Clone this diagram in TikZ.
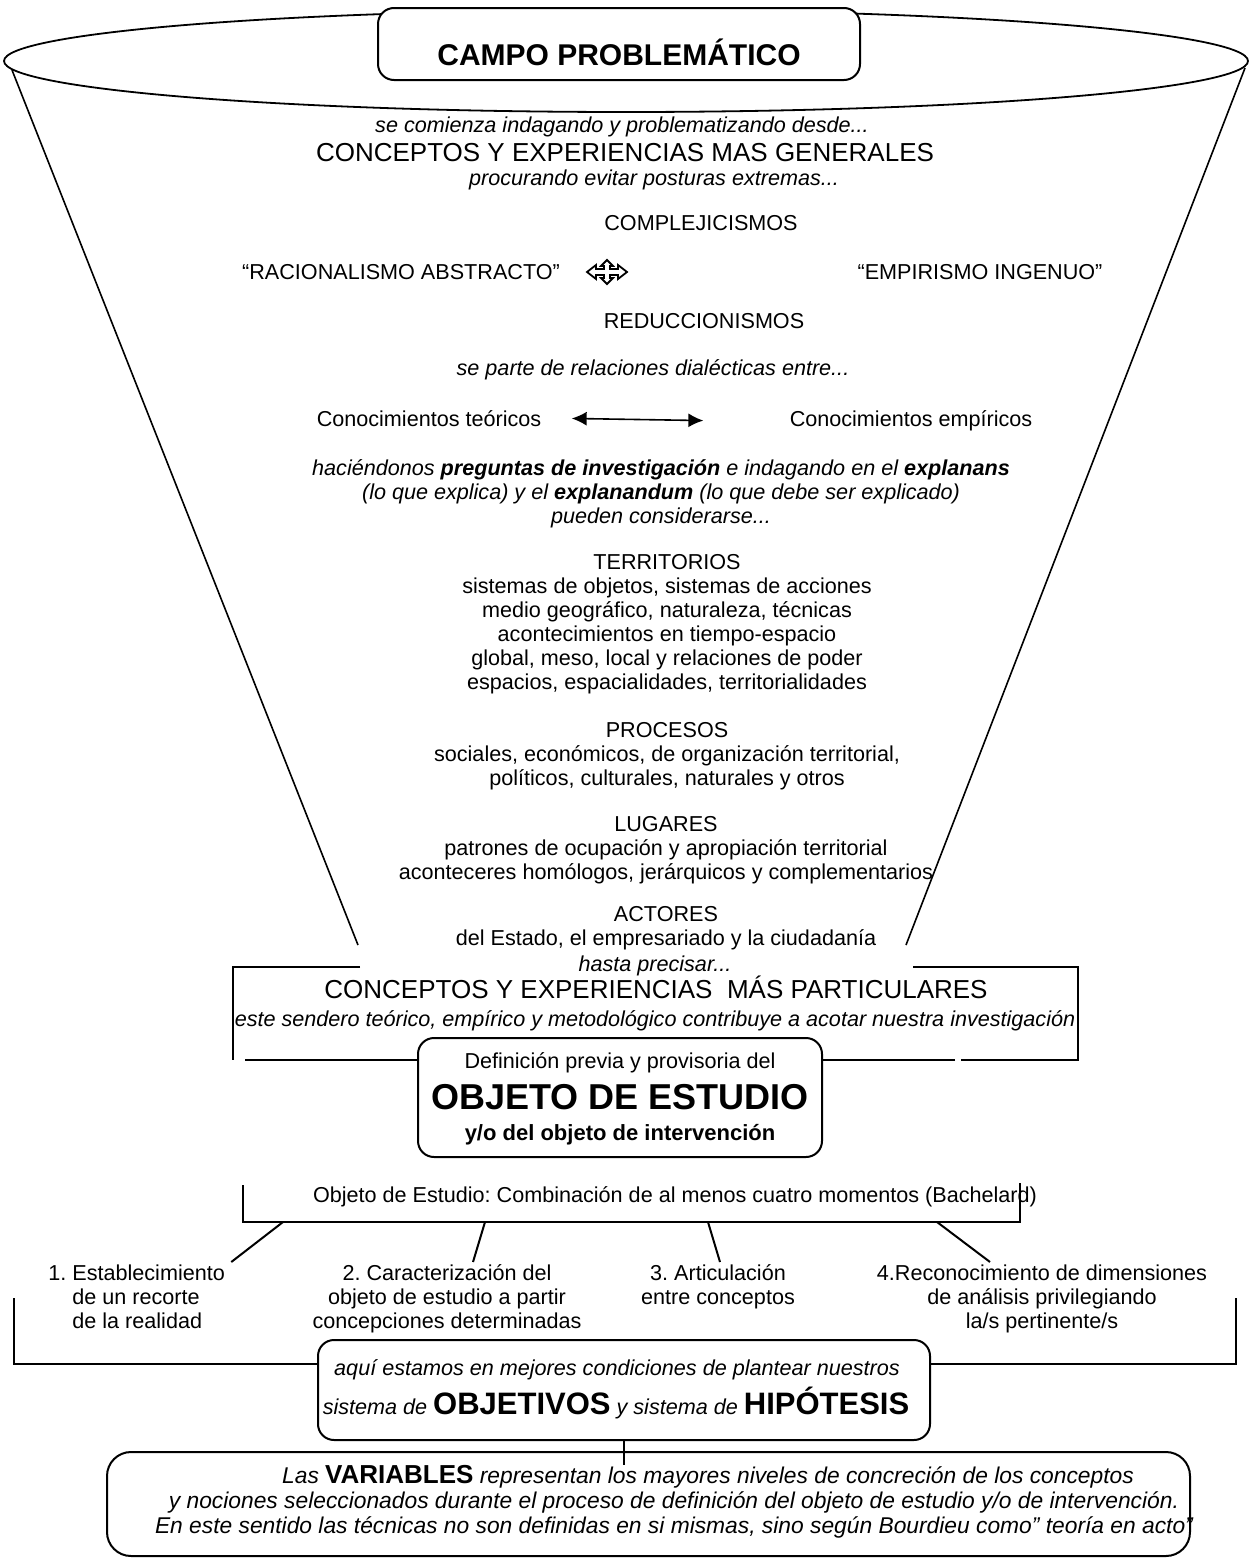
\documentclass[tikz,border=0pt]{standalone}
\usepackage{fontspec}
\setmainfont{Liberation Sans}
\usetikzlibrary{arrows.meta,positioning}
\frenchspacing

\tikzset{
    txt/.style={font=\fontsize{10.8}{12}\selectfont, align=center, inner sep=0pt},
    itx/.style={font=\fontsize{10.8}{12}\selectfont\itshape, align=center, inner sep=0pt},
    grande/.style={font=\fontsize{13}{15}\selectfont, inner sep=0pt},
    caja/.style={draw, fill=white, rounded corners=8pt, line width=1pt, inner sep=0pt},
    linea/.style={line width=1pt},
}

\begin{document}
\begin{tikzpicture}[x=0.5pt, y=-0.5pt]
    \useasboundingbox (0,0) rectangle (1249,1558);
    % embudo
    \draw [line width=0.9pt] (626,61) ellipse [x radius=311pt, y radius=25.5pt];
    \draw [line width=0.8pt] (12,70) -- (358,945);
    \draw [line width=0.8pt] (1245,68) -- (906,945);
    \node [caja, minimum width=241pt, minimum height=36pt] (campo) at (619,44) {};
    \node [font=\fontsize{15}{17}\selectfont\bfseries, inner sep=0pt] (campotxt) at (619,52) {CAMPO PROBLEMÁTICO};

    \node [itx] (comienza) at (622,127) {se comienza indagando y problematizando desde...};
    \node [grande] (generales) at (625,153) {CONCEPTOS Y EXPERIENCIAS MAS GENERALES};
    \node [itx] (procurando) at (654,180) {procurando evitar posturas extremas...};
    \node [txt] (complej) at (701,223) {COMPLEJICISMOS};
    \node [txt] (racional) at (401,272) {“RACIONALISMO ABSTRACTO”};
    \node [txt] (empirismo) at (980,272) {“EMPIRISMO INGENUO”};
    \node [txt] (reducc) at (704,321) {REDUCCIONISMOS};
    % flecha de cuatro puntas
    \draw [line width=0.9pt, shift={(607,272)}] (-20,0) -- (-11,-7) -- (-11,-3) -- (-3,-3) -- (-3,-6)
        -- (-6,-6) -- (0,-12) -- (6,-6) -- (3,-6) -- (3,-3) -- (11,-3) -- (11,-7) -- (20,0)
        -- (11,7) -- (11,3) -- (3,3) -- (3,6) -- (6,6) -- (0,12) -- (-6,6) -- (-3,6) -- (-3,3)
        -- (-11,3) -- (-11,7) -- cycle;

    \node [itx] (dialect) at (653,370) {se parte de relaciones dialécticas entre...};
    \node [txt, anchor=mid] (teorico) at (429,421) {Conocimientos teóricos};
    \node [txt, anchor=mid] (empirico) at (911,421) {Conocimientos empíricos};
    \draw [{Latex[length=7.5pt,width=7pt]}-{Latex[length=7.5pt,width=7pt]}, line width=0.8pt]
        ([xshift=15pt]teorico.east) -- ([xshift=-43pt]empirico.west);

    \node [itx] (preguntas) at (661,494) {haciéndonos \textbf{preguntas de investigación} e indagando en el \textbf{explanans}\\
        (lo que explica) y el \textbf{explanandum} (lo que debe ser explicado)\\
        pueden considerarse...};
    \node [txt] (territ) at (667,624) {TERRITORIOS\\
        sistemas de objetos, sistemas de acciones\\
        medio geográfico, naturaleza, técnicas\\
        acontecimientos en tiempo-espacio\\
        global, meso, local y relaciones de poder\\
        espacios, espacialidades, territorialidades};
    \node [txt] (procesos) at (667,756) {PROCESOS\\
        sociales, económicos, de organización territorial,\\
        políticos, culturales, naturales y otros};
    \node [txt] (lugares) at (666,850) {LUGARES\\
        patrones de ocupación y apropiación territorial\\
        aconteceres homólogos, jerárquicos y complementarios};
    \node [txt] (actores) at (666,928) {ACTORES\\
        del Estado, el empresariado y la ciudadanía};

    % corchete de los conceptos particulares
    \node [itx, anchor=mid] (hasta) at (655,966) {hasta precisar...};
    \node [grande, anchor=mid] (particulares) at (656,993) {CONCEPTOS Y EXPERIENCIAS \ MÁS PARTICULARES};
    \node [itx, anchor=mid] (sendero) at (655,1021) {este sendero teórico, empírico y metodológico contribuye a acotar nuestra investigación};
    \node [caja, minimum width=202pt, minimum height=59.5pt] (objeto) at (620,1097.5) {};
    \node [txt] (previa) at (620,1063) {Definición previa y provisoria del};
    \node [font=\fontsize{18}{20}\selectfont\bfseries, inner sep=0pt] (estudio) at (620,1097) {OBJETO DE ESTUDIO};
    \node [font=\fontsize{11}{13}\selectfont\bfseries, inner sep=0pt] (interv) at (620,1135) {y/o del objeto de intervención};
    \draw [linea] (360,967) -- (233,967) -- (233,1060);
    \draw [linea] (245,1060) -- (objeto.west |- 0,1060);
    \draw [linea] (913,967) -- (1078,967) -- (1078,1060) -- (961,1060);
    \draw [linea] (955,1060) -- (objeto.east |- 0,1060);

    % cuatro momentos
    \node [txt] (bachelard) at (675,1197) {Objeto de Estudio: Combinación de al menos cuatro momentos (Bachelard)};
    \draw [linea] (243,1185) -- (243,1222) -- (1020,1222) -- (1020,1183);
    \coordinate (b1) at (283,1222);
    \coordinate (b2) at (485,1222);
    \coordinate (b3) at (708,1222);
    \coordinate (b4) at (937,1222);
    \node [txt, align=left, anchor=north west] (item1) at (48,1264) {1. Establecimiento\\
        \phantom{1. }de un recorte\\
        \phantom{1. }de la realidad};
    \node [txt, anchor=north] (item2) at (447,1264) {2. Caracterización del\\
        objeto de estudio a partir\\
        concepciones determinadas};
    \node [txt, anchor=north] (item3) at (718,1264) {3. Articulación\\
        entre conceptos};
    \node [txt, anchor=north] (item4) at (1042,1264) {4.Reconocimiento de dimensiones\\
        de análisis privilegiando\\
        la/s pertinente/s};
    \draw [linea] (b1) -- ([xshift=3pt,yshift=1pt]item1.north east);
    \draw [linea] (b2) -- ([xshift=13pt,yshift=1pt]item2.north);
    \draw [linea] (b3) -- ([xshift=1pt,yshift=1pt]item3.north);
    \draw [linea] (b4) -- ([xshift=-26pt,yshift=1pt]item4.north);

    % objetivos e hipotesis
    \node [caja, minimum width=306pt, minimum height=50pt] (metas) at (624,1390) {};
    \node [itx] (plantear) at (617,1370) {aquí estamos en mejores condiciones de plantear nuestros};
    \node [itx] (sistemas) at (616,1403) {sistema de {\fontsize{15.5}{17}\selectfont\bfseries\upshape OBJETIVOS} y sistema de
        {\fontsize{15.5}{17}\selectfont\bfseries\upshape HIPÓTESIS}};
    \draw [linea] (14,1298) -- (14,1364) -- (metas.west |- 0,1364);
    \draw [linea] (1236,1298) -- (1236,1364) -- (metas.east |- 0,1364);

    % variables
    \node [caja, rounded corners=12pt, minimum width=541.5pt, minimum height=52pt] (variables) at (648.5,1504) {};
    \draw [linea] (metas.south) -- ++(0,24);
    \node [itx, font=\fontsize{11.4}{12.5}\selectfont\itshape] (varstxt) at (674,1502) {\hspace*{34pt}Las {\fontsize{13}{14}\selectfont\bfseries\upshape VARIABLES} representan los mayores niveles de concreción de los conceptos\\
        y nociones seleccionados durante el proceso de definición del objeto de estudio y/o de intervención.\\
        En este sentido las técnicas no son definidas en si mismas, sino según Bourdieu como” teoría en acto”};
\end{tikzpicture}
\end{document}
